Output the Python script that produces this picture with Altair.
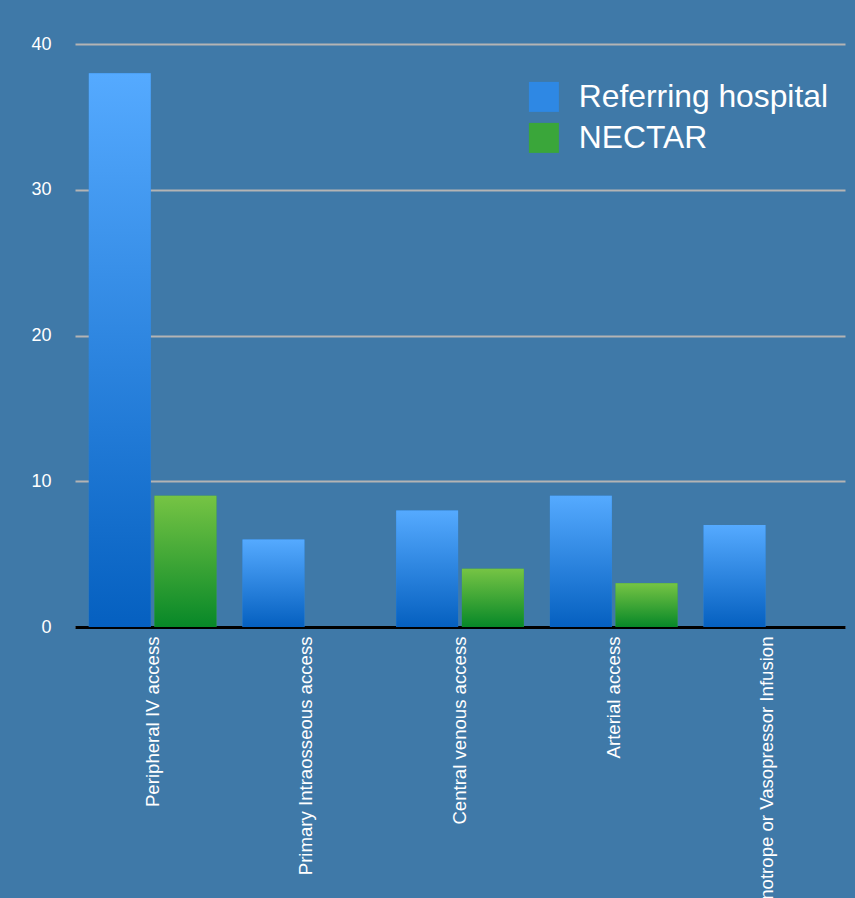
import altair as alt
import pandas as pd

categories = [
    "Peripheral IV access",
    "Primary Intraosseous access",
    "Central venous access",
    "Arterial access",
    "Inotrope or Vasopressor Infusion",
]
series_names = ["Referring hospital", "NECTAR"]
referring = [38, 6, 8, 9, 7]
nectar = [9, 0, 4, 3, 0]

rows = []
for c, r, n in zip(categories, referring, nectar):
    rows.append({"category": c, "series": series_names[0], "value": r})
    rows.append({"category": c, "series": series_names[1], "value": n})
df = pd.DataFrame(rows)

BG = "#3f79a8"
blue_grad = {
    "gradient": "linear", "x1": 0, "y1": 0, "x2": 0, "y2": 1,
    "stops": [{"offset": 0, "color": "#55aaff"}, {"offset": 1, "color": "#0560c0"}],
}
green_grad = {
    "gradient": "linear", "x1": 0, "y1": 0, "x2": 0, "y2": 1,
    "stops": [{"offset": 0, "color": "#76c444"}, {"offset": 1, "color": "#078828"}],
}

x_enc = alt.X(
    "category:N", sort=categories, title=None,
    scale=alt.Scale(paddingInner=0.17, paddingOuter=0.09),
    axis=alt.Axis(labelAngle=-90, labelColor="white", labelFontSize=18.6,
                  labelFont="Liberation Sans", labelPadding=9, ticks=False,
                  domainColor="black", domainWidth=3, labelLimit=0,
                  labelAlign="right", labelBaseline="middle"),
)
xo_enc = alt.XOffset("series:N", sort=series_names, scale=alt.Scale(paddingInner=0.058))
y_enc = alt.Y(
    "value:Q", title=None,
    scale=alt.Scale(domain=[0, 40]),
    axis=alt.Axis(values=[0, 10, 20, 30, 40], labelColor="white", labelFontSize=18,
                  labelFont="Liberation Sans", labelPadding=24, ticks=False,
                  domain=False, grid=True, gridColor="#b4b4b4", gridWidth=2),
)

legend = alt.Legend(
    title=None, orient="none", legendX=453, legendY=37,
    symbolType="square", symbolSize=900, symbolStrokeWidth=0,
    labelColor="white", labelFontSize=31.8, labelFont="Liberation Sans",
    labelOffset=19, rowPadding=8, padding=0, symbolOpacity=1, labelLimit=0,
)

base = alt.Chart(df)
legend_layer = base.mark_bar().encode(
    x=x_enc, xOffset=xo_enc, y=y_enc,
    color=alt.Color("series:N", sort=series_names,
                    scale=alt.Scale(domain=series_names, range=["#2e88e4", "#3aa63a"]),
                    legend=legend),
)
grad_layer = base.mark_bar().encode(
    x=x_enc, xOffset=xo_enc, y=y_enc,
    fill=alt.condition(alt.datum.series == "NECTAR", alt.value(green_grad), alt.value(blue_grad)),
)

chart = alt.layer(legend_layer, grad_layer).properties(
    width=770, height=583, background=BG,
    autosize=alt.AutoSizeParams(type="none"),
    padding={"left": 75, "top": 44, "right": 10, "bottom": 271},
).configure_view(stroke=None)

chart.save("out.html", embed_options={"renderer": "svg", "actions": False})
